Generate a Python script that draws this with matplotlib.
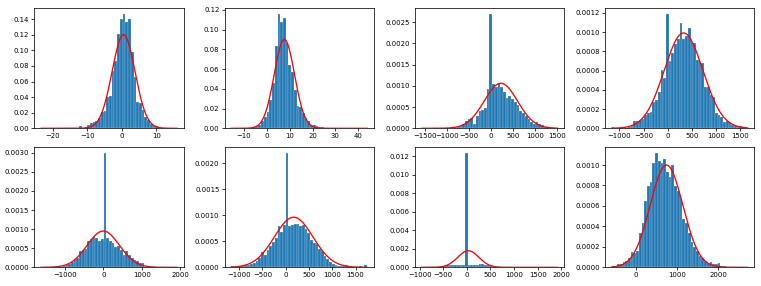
import numpy as np
import matplotlib.pyplot as plt

# histogram range (data min, max) of every panel, 50 bins each
los = [-23.4, -15.5, -1573, -1162, -1620, -1170, -962, -598]
his = [16.0, 43.9, 1498, 1660, 1920, 1750, 1920, 2720]

# fitted normal curve of every panel
mus = [0.5, 7.7, 220, 330, 0, 170, 30, 740]
sigmas = [3.32, 4.43, 376, 403, 420, 415, 222, 399]

# bar heights (density)
dens1 = [0, 0, 0, 0, 0, 0, 0, 0, 0, 0,
         0.001, 0, 0, 0, 0.003, 0, 0.002, 0.004, 0.007, 0.008,
         0.010, 0.013, 0.021, 0.022, 0.040, 0.041, 0.073, 0.086, 0.121, 0.140,
         0.147, 0.137, 0.140, 0.098, 0.066, 0.034, 0.032, 0.024, 0.015, 0.011,
         0.006, 0.004, 0.003, 0.002, 0.001, 0, 0, 0, 0, 0]
dens2 = [0, 0, 0, 0, 0, 0, 0, 0.0005, 0.001, 0.002,
         0.003, 0.007, 0.011, 0.016, 0.029, 0.046, 0.083, 0.116, 0.108, 0.112,
         0.086, 0.064, 0.057, 0.039, 0.023, 0.022, 0.015, 0.010, 0.007, 0.003,
         0.003, 0.002, 0.0015, 0.001, 0.0007, 0.0003, 0, 0, 0, 0,
         0, 0, 0, 0, 0, 0, 0, 0, 0, 0]
dens3 = [0, 0, 0, 0, 0, 0, 0, 0, 0, 0,
         0, 0, 0, 0.00002, 0.00005, 0.0001, 0.00018, 0.00022, 0.00025, 0.0001,
         0.00028, 0.0004, 0.00043, 0.00048, 0.00093, 0.0027, 0.00105, 0.00098, 0.00107, 0.00098,
         0.00085, 0.00072, 0.00075, 0.00068, 0.00063, 0.00054, 0.0004, 0.00036, 0.00028, 0.00021,
         0.00015, 0.0001, 0.00016, 0.00009, 0.00007, 0.00004, 0.00002, 0, 0, 0]
dens4 = [0.000014, 0, 0, 0, 0, 0, 0.00001, 0.00002, 0.00008, 0.00008,
         0.00009, 0.0001, 0.00014, 0.00016, 0.00017, 0.00027, 0.00029, 0.00038, 0.00061, 0.00052,
         0.00119, 0.0007, 0.00078, 0.00088, 0.00093, 0.00109, 0.00093, 0.00096, 0.00104, 0.0009,
         0.00089, 0.00071, 0.00069, 0.00068, 0.00043, 0.00043, 0.00035, 0.00033, 0.00016, 0.00014,
         0.00012, 0.00007, 0.00008, 0.00005, 0.00003, 0.00002, 0.00001, 0.00002, 0, 0]
dens5 = [0, 0, 0, 0, 0, 0, 0.00001, 0.00002, 0.00003, 0.00005,
         0.00009, 0.00013, 0.00022, 0.00025, 0.00042, 0.00046, 0.00048, 0.00068, 0.00073, 0.0008,
         0.00077, 0.00068, 0.00074, 0.0030, 0.00077, 0.00068, 0.00064, 0.00053, 0.00055, 0.00046,
         0.00033, 0.00042, 0.00033, 0.00024, 0.0002, 0.00016, 0.00011, 0.00011, 0.00002, 0.00002,
         0.00001, 0.00001, 0.00001, 0.00002, 0.00001, 0, 0.00001, 0, 0, 0]
dens6 = [0.00002, 0, 0, 0.00003, 0.00003, 0.00004, 0.00005, 0.00007, 0.00008, 0.00012,
         0.00018, 0.00029, 0.00024, 0.00034, 0.0004, 0.00048, 0.00057, 0.00079, 0.00068, 0.00082,
         0.0022, 0.0008, 0.00082, 0.00084, 0.00084, 0.00079, 0.00082, 0.00073, 0.00066, 0.00053,
         0.00047, 0.00044, 0.00035, 0.00031, 0.00021, 0.00016, 0.0001, 0.00007, 0.00005, 0.00003,
         0.00003, 0.00004, 0.00004, 0.00002, 0.00001, 0.00001, 0, 0.00002, 0.00001, 0.00004]
dens7 = [0, 0, 0, 0, 0, 0.00004, 0.00007, 0.0001, 0.00015, 0.0002,
         0.00022, 0.00025, 0.00028, 0.0003, 0.00028, 0.00025, 0.0124, 0.0002, 0.00028, 0.0003,
         0.00025, 0.00032, 0.00035, 0.00028, 0.00022, 0.00012, 0.00007, 0.00004, 0.00002, 0.00001,
         0, 0, 0, 0, 0, 0, 0, 0, 0, 0,
         0, 0, 0, 0, 0, 0, 0, 0, 0, 0]
dens8 = [0.000016, 0.000016, 0.00003, 0.000036, 0.00005, 0.00006, 0.00009, 0.00015, 0.00014, 0.00016,
         0.00034, 0.00043, 0.00065, 0.00079, 0.00083, 0.00102, 0.00112, 0.00104, 0.00102, 0.00106,
         0.00093, 0.00088, 0.001, 0.00079, 0.00075, 0.00068, 0.00047, 0.00043, 0.00034, 0.00025,
         0.0002, 0.00016, 0.00011, 0.00009, 0.00006, 0.00004, 0.00005, 0.00003, 0.00003, 0.00004,
         0.00001, 0.00001, 0.000005, 0.000005, 0, 0.000005, 0.000005, 0.000005, 0, 0]
dens = [dens1, dens2, dens3, dens4, dens5, dens6, dens7, dens8]

plt.rcParams['font.size'] = 13
plt.rcParams['axes.linewidth'] = 1.4
plt.rcParams['xtick.major.width'] = 1.4
plt.rcParams['ytick.major.width'] = 1.4
plt.rcParams['xtick.major.size'] = 6
plt.rcParams['ytick.major.size'] = 6

fig = plt.figure(figsize=(761 / 38, 286 / 38))

lefts = [34.3, 224.5, 414.7, 604.9]
for k in range(8):
    row, col = divmod(k, 4)
    top = 8 if row == 0 else 147
    ax = fig.add_axes([lefts[col] / 761, 1 - (top + 120.3) / 286, 149.5 / 761, 120.3 / 286])

    edges = np.linspace(los[k], his[k], 51)
    ax.hist(edges[:-1], bins=edges, weights=dens[k], color='#1f77b4',
            edgecolor='white', linewidth=0.4)

    x = np.linspace(los[k], his[k], 300)
    y = np.exp(-(x - mus[k]) ** 2 / (2 * sigmas[k] ** 2)) / (sigmas[k] * np.sqrt(2 * np.pi))
    ax.plot(x, y, 'r', linewidth=2.5)

fig.savefig('out.png', dpi=38)
